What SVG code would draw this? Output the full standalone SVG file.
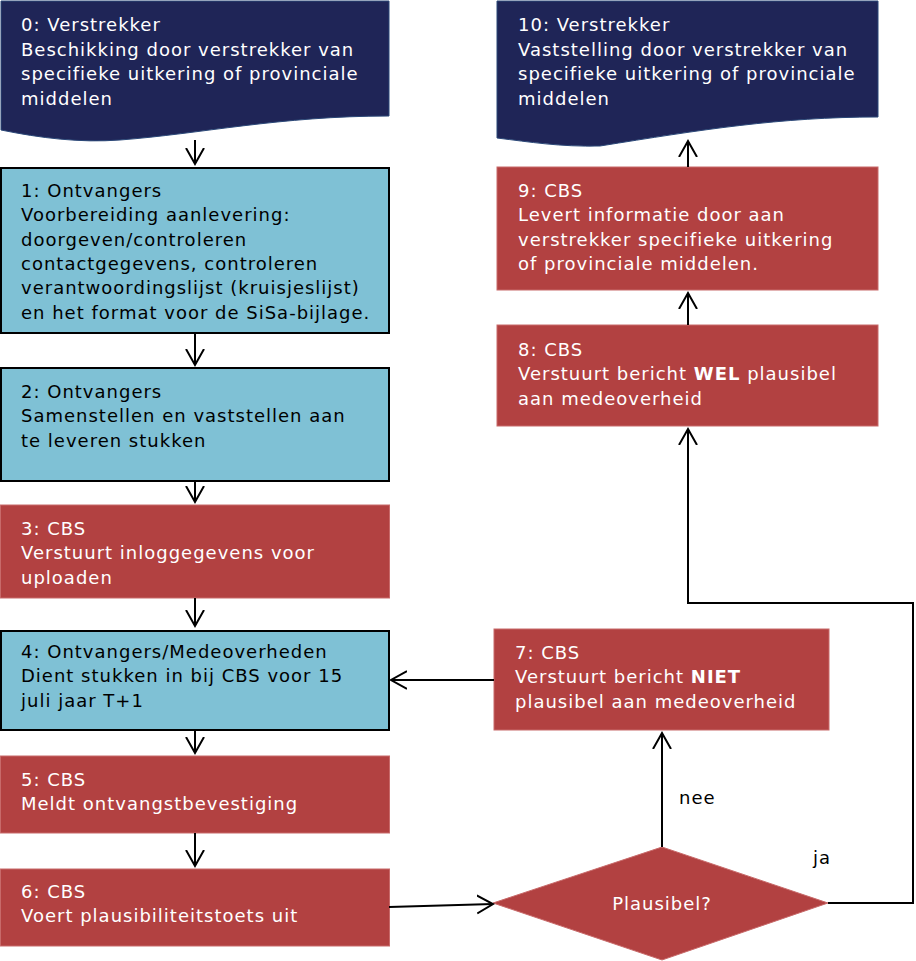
<svg xmlns="http://www.w3.org/2000/svg" width="916" height="961" viewBox="0 0 916 961">
<style>
.t{font-family:"DejaVu Sans","Liberation Sans",sans-serif;font-size:18px;letter-spacing:1px}
.w{fill:#ffffff}
.k{fill:#000000}
.navy{fill:#1f2557;stroke:#2b4878;stroke-width:1}
.red{fill:#b24141;stroke:#c86a6a;stroke-width:1}
.blue{fill:#7fc1d5;stroke:#000000;stroke-width:2}
.c{fill:none;stroke:#000000;stroke-width:2}
</style>
<defs>
<marker id="a" markerUnits="userSpaceOnUse" markerWidth="24" markerHeight="24" refX="16" refY="10" orient="auto">
<path d="M0,1 L16,10 L0,19" fill="none" stroke="#000" stroke-width="2"/>
</marker>
</defs>
<g id="n0">
<path class="navy" d="M1,1 H389 V116 C280,116 200,134 120,140 C80,143 40,138 1,130 Z"/>
<text class="t w"><tspan x="21" y="31">0: Verstrekker</tspan><tspan x="21" y="55.5">Beschikking door verstrekker van</tspan><tspan x="21" y="80">specifieke uitkering of provinciale</tspan><tspan x="21" y="104.5">middelen</tspan></text>
</g>
<g id="n1">
<rect class="blue" x="1" y="168" width="388" height="165"/>
<text class="t k"><tspan x="21" y="197">1: Ontvangers</tspan><tspan x="21" y="221.3">Voorbereiding aanlevering:</tspan><tspan x="21" y="245.6">doorgeven/controleren</tspan><tspan x="21" y="269.9">contactgegevens, controleren</tspan><tspan x="21" y="294.2">verantwoordingslijst (kruisjeslijst)</tspan><tspan x="21" y="318.5">en het format voor de SiSa-bijlage.</tspan></text>
</g>
<g id="n2">
<rect class="blue" x="1" y="368" width="388" height="113"/>
<text class="t k"><tspan x="21" y="398">2: Ontvangers</tspan><tspan x="21" y="422.3">Samenstellen en vaststellen aan</tspan><tspan x="21" y="446.6">te leveren stukken</tspan></text>
</g>
<g id="n3">
<rect class="red" x="0.5" y="505" width="389" height="93"/>
<text class="t w"><tspan x="21" y="535">3: CBS</tspan><tspan x="21" y="559.3">Verstuurt inloggegevens voor</tspan><tspan x="21" y="583.6">uploaden</tspan></text>
</g>
<g id="n4">
<rect class="blue" x="1" y="631" width="388" height="99"/>
<text class="t k"><tspan x="21" y="658">4: Ontvangers/Medeoverheden</tspan><tspan x="21" y="682.3">Dient stukken in bij CBS voor 15</tspan><tspan x="21" y="706.6">juli jaar T+1</tspan></text>
</g>
<g id="n5">
<rect class="red" x="0.5" y="756" width="389" height="77"/>
<text class="t w"><tspan x="21" y="786">5: CBS</tspan><tspan x="21" y="810.3">Meldt ontvangstbevestiging</tspan></text>
</g>
<g id="n6">
<rect class="red" x="0.5" y="869" width="389" height="77"/>
<text class="t w"><tspan x="21" y="898">6: CBS</tspan><tspan x="21" y="922.3">Voert plausibiliteitstoets uit</tspan></text>
</g>
<g id="n7">
<rect class="red" x="494" y="629" width="335" height="101"/>
<text class="t w"><tspan x="515" y="659">7: CBS</tspan><tspan x="515" y="683.3">Verstuurt bericht <tspan font-weight="bold">NIET</tspan></tspan><tspan x="515" y="707.6">plausibel aan medeoverheid</tspan></text>
</g>
<g id="d">
<path class="red" d="M493,903 L662,847 L828,903 L662,960 Z"/>
<text class="t w" x="662" y="910" text-anchor="middle">Plausibel?</text>
</g>
<g id="n8">
<rect class="red" x="497" y="325" width="381" height="101"/>
<text class="t w"><tspan x="518" y="356">8: CBS</tspan><tspan x="518" y="380.3">Verstuurt bericht <tspan font-weight="bold">WEL</tspan> plausibel</tspan><tspan x="518" y="404.6">aan medeoverheid</tspan></text>
</g>
<g id="n9">
<rect class="red" x="497" y="167" width="381" height="123"/>
<text class="t w"><tspan x="518" y="197">9: CBS</tspan><tspan x="518" y="221.3">Levert informatie door aan</tspan><tspan x="518" y="245.6">verstrekker specifieke uitkering</tspan><tspan x="518" y="269.9">of provinciale middelen.</tspan></text>
</g>
<g id="n10">
<path class="navy" d="M497,1 H878 V117 C780,117 700,130 600,146 C560,147 530,142 497,138 Z"/>
<text class="t w"><tspan x="518" y="31">10: Verstrekker</tspan><tspan x="518" y="55.5">Vaststelling door verstrekker van</tspan><tspan x="518" y="80">specifieke uitkering of provinciale</tspan><tspan x="518" y="104.5">middelen</tspan></text>
</g>
<g id="connectors">
<line class="c" x1="195" y1="140" x2="195" y2="164" marker-end="url(#a)"/>
<line class="c" x1="195" y1="334" x2="195" y2="365" marker-end="url(#a)"/>
<line class="c" x1="195" y1="482" x2="195" y2="502" marker-end="url(#a)"/>
<line class="c" x1="195" y1="598" x2="195" y2="626" marker-end="url(#a)"/>
<line class="c" x1="195" y1="731" x2="195" y2="753" marker-end="url(#a)"/>
<line class="c" x1="195" y1="833" x2="195" y2="866" marker-end="url(#a)"/>
<line class="c" x1="389" y1="907" x2="493" y2="904" marker-end="url(#a)"/>
<line class="c" x1="662" y1="847" x2="662" y2="733" marker-end="url(#a)"/>
<line class="c" x1="494" y1="680" x2="391" y2="680" marker-end="url(#a)"/>
<polyline class="c" points="828,903 913,903 913,603 688,603 688,429" marker-end="url(#a)"/>
<line class="c" x1="688" y1="325" x2="688" y2="293" marker-end="url(#a)"/>
<line class="c" x1="688" y1="167" x2="688" y2="141" marker-end="url(#a)"/>
<text class="t k" x="679" y="804">nee</text>
<text class="t k" x="813" y="864">ja</text>
</g>
</svg>
